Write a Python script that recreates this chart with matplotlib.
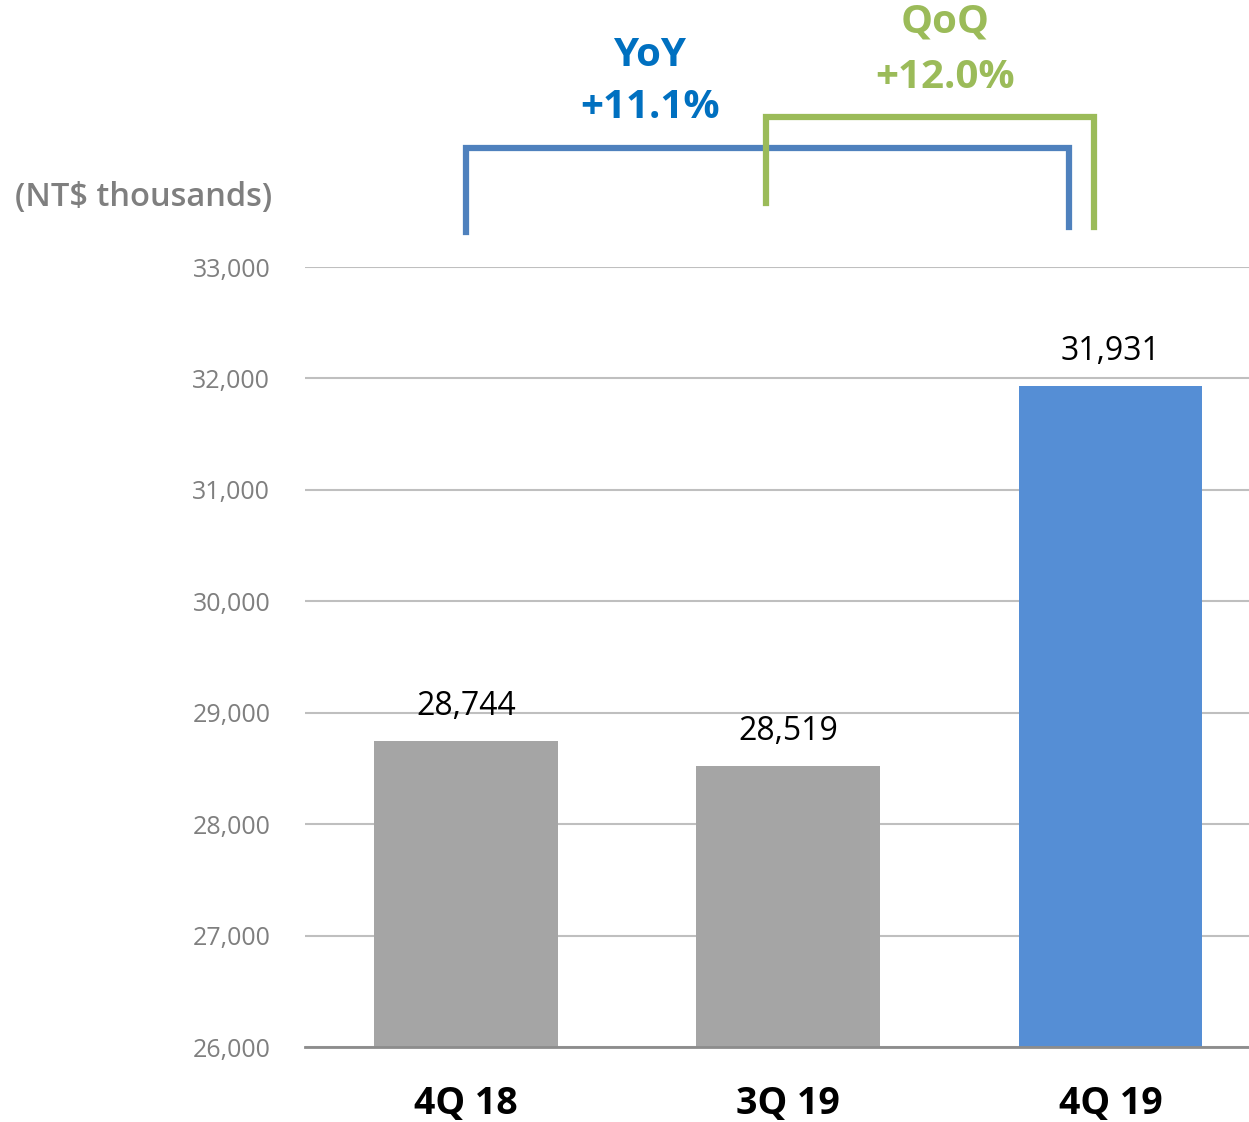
import matplotlib.pyplot as plt
from matplotlib.ticker import FuncFormatter

plt.rcParams['font.family'] = ['Open Sans', 'DejaVu Sans']

# data
quarters = ['4Q 18', '3Q 19', '4Q 19']
revenue = [28744, 28519, 31931]
bar_colors = ['#A5A5A5', '#A5A5A5', '#558ED5']
yoy_label, yoy_pct = 'YoY', '+11.1%'
qoq_label, qoq_pct = 'QoQ', '+12.0%'

fig = plt.figure(figsize=(12.49, 11.22), dpi=100)
ax = fig.add_axes([305/1249, 75/1122, 944/1249, 780/1122])

x = range(len(quarters))
bars = ax.bar(x, revenue, width=0.57, color=bar_colors, zorder=3)
ax.set_xlim(-0.5, 2.43)
ax.set_ylim(26000, 33000)
ax.set_yticks(range(26000, 33001, 1000))
ax.yaxis.set_major_formatter(FuncFormatter(lambda v, p: f'{int(v):,}'))
ax.grid(axis='y', color='#BFBFBF', linewidth=1.5, zorder=0)
ax.set_axisbelow(True)
for s in ['top', 'right', 'left']:
    ax.spines[s].set_visible(False)
ax.spines['bottom'].set_color('#8C8C8C')
ax.spines['bottom'].set_linewidth(2)
ax.spines['bottom'].set_zorder(4)
ax.tick_params(axis='y', length=0, pad=25, labelsize=18, labelcolor='#7F7F7F')
ax.tick_params(axis='x', length=0, pad=27)
ax.set_xticks(list(x))
ax.set_xticklabels(quarters, fontsize=27, fontweight='bold', color='black')

for b, v in zip(bars, revenue):
    ax.text(b.get_x() + b.get_width() / 2, v + 160, f'{v:,}',
            ha='center', va='bottom', fontsize=23, color='black')

fig.text(15/1249, 1 - 198/1122, '(NT$ thousands)', ha='left', va='center',
         fontsize=23.5, color='#7F7F7F', fontweight='semibold')

# growth brackets
blue = '#4F81BD'
green = '#9BBB59'
ax.plot([0, 0, 1.87, 1.87], [33314, 34068, 34068, 33359],
        color=blue, linewidth=4.5, clip_on=False, solid_joinstyle='miter', zorder=5)
ax.plot([0.93, 0.93, 1.95, 1.95], [33574, 34346, 34346, 33359],
        color=green, linewidth=4.5, clip_on=False, solid_joinstyle='miter', zorder=6)

big = dict(ha='center', va='center', fontsize=29, fontweight='bold')
fig.text(650/1249, 1 - 55/1122, yoy_label, color='#0070C0', **big)
fig.text(650/1249, 1 - 108/1122, yoy_pct, color='#0070C0', **big)
fig.text(945/1249, 1 - 22/1122, qoq_label, color=green, **big)
fig.text(945/1249, 1 - 77/1122, qoq_pct, color=green, **big)

fig.savefig('out.png', dpi=100)
